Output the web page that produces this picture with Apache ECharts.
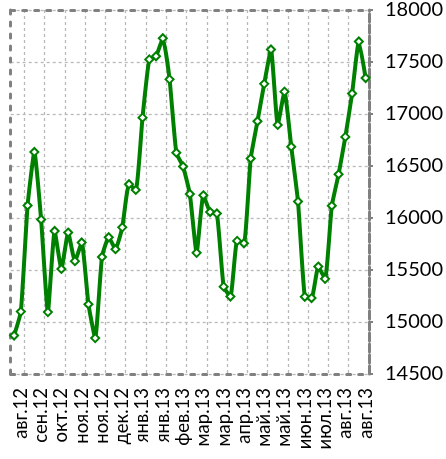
<!DOCTYPE html>
<html><head><meta charset="utf-8">
<script src="https://cdn.jsdelivr.net/npm/echarts@6/dist/echarts.min.js"></script>
<style>html,body{margin:0;padding:0;background:#fff}#c{width:446px;height:459px}</style>
</head><body><div id="c"></div>
<script>
const weeks = [
 '2012-08-24','2012-08-31','2012-09-07','2012-09-14','2012-09-21','2012-09-28',
 '2012-10-05','2012-10-12','2012-10-19','2012-10-26','2012-11-02','2012-11-09',
 '2012-11-16','2012-11-23','2012-11-30','2012-12-07','2012-12-14','2012-12-21',
 '2012-12-28','2013-01-04','2013-01-11','2013-01-18','2013-01-25','2013-02-01',
 '2013-02-08','2013-02-15','2013-02-22','2013-03-01','2013-03-08','2013-03-15',
 '2013-03-22','2013-03-29','2013-04-05','2013-04-12','2013-04-19','2013-04-26',
 '2013-05-03','2013-05-10','2013-05-17','2013-05-24','2013-05-31','2013-06-07',
 '2013-06-14','2013-06-21','2013-06-28','2013-07-05','2013-07-12','2013-07-19',
 '2013-07-26','2013-08-02','2013-08-09','2013-08-16','2013-08-23'
];
const monthNames = ['янв','фев','мар','апр','май','июн','июл','авг','сен','окт','ноя','дек'];
const values = [
 14870, 15100, 16120, 16635, 15985, 15095, 15875, 15510, 15860, 15585,
 15765, 15170, 14845, 15625, 15815, 15700, 15910, 16325, 16270, 16965,
 17525, 17555, 17728, 17333, 16628, 16495, 16230, 15665, 16218, 16057,
 16044, 15340, 15245, 15780, 15757, 16572, 16930, 17290, 17620, 16895,
 17215, 16685, 16158, 15242, 15230, 15533, 15415, 16117, 16420, 16780,
 17197, 17697, 17346
];
const yMin = 14500, yMax = 18000, yStep = 500;

const border = {color:'#808080', width:3, type:[4,8]};
const grid = {color:'#b8b8b8', width:1.3, type:[3,3]};
const fmt = v => monthNames[+v.slice(5,7)-1] + '.' + v.slice(2,4);

const chart = echarts.init(document.getElementById('c'), null, {renderer:'canvas'});
chart.setOption({
  animation:false,
  backgroundColor:'#fff',
  grid:{left:10.7, right:74.6, top:4, bottom:85},
  xAxis:[{
    type:'category', data:weeks, boundaryGap:true, position:'bottom',
    axisLine:{show:true, lineStyle:border},
    axisTick:{show:false},
    splitLine:{show:true, interval:(i)=> i%3===2, lineStyle:grid},
    axisLabel:{interval:(i)=> i%3===1, rotate:90, margin:14, formatter:fmt,
      fontFamily:'Lato', fontSize:18.5, color:'#000'}
  },{
    type:'category', data:weeks, boundaryGap:true, position:'top',
    axisLine:{show:true, lineStyle:border},
    axisTick:{show:false}, axisLabel:{show:false}, splitLine:{show:false}
  }],
  yAxis:[{
    type:'value', position:'right', min:yMin, max:yMax, interval:yStep,
    axisLine:{show:true, lineStyle:{color:'#808080', width:3, type:[8,3]}},
    axisTick:{show:true, inside:false, length:4, lineStyle:{color:'#808080', width:2}},
    splitLine:{show:true, lineStyle:grid},
    axisLabel:{margin:16, fontFamily:'Lato', fontSize:20, color:'#000', padding:[6,0,0,0],
      formatter:(v)=> String(v)}
  },{
    type:'value', position:'left', min:yMin, max:yMax, interval:yStep,
    axisLine:{show:true, lineStyle:border},
    axisTick:{show:false}, axisLabel:{show:false}, splitLine:{show:false}
  }],
  series:[{
    type:'line', data:values, xAxisIndex:0, yAxisIndex:0,
    smooth:0.15, showAllSymbol:true,
    lineStyle:{color:'#008000', width:4},
    symbol:'diamond', symbolSize:8,
    itemStyle:{color:'#fff', borderColor:'#008000', borderWidth:2},
    z:5
  }]
});
</script></body></html>
